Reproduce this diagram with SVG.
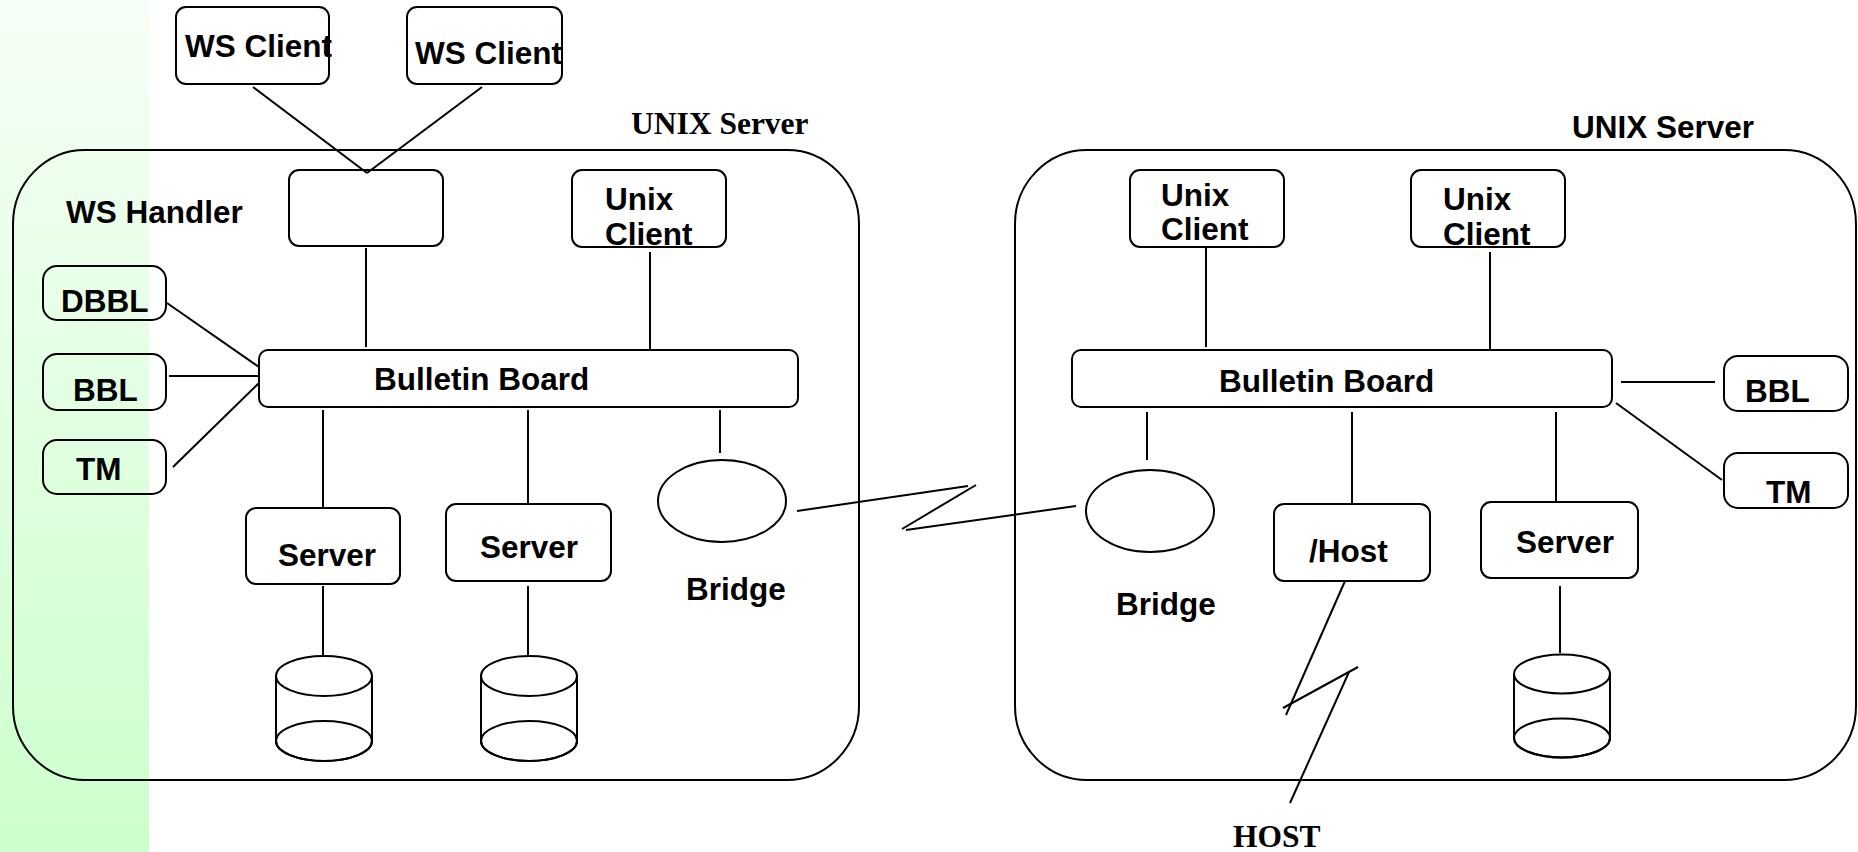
<svg xmlns="http://www.w3.org/2000/svg" width="1858" height="852" viewBox="0 0 1858 852">
<defs>
<linearGradient id="band" x1="0" y1="0" x2="0" y2="1">
<stop offset="0" stop-color="#f6fff6"/>
<stop offset="1" stop-color="#ccffcc"/>
</linearGradient>
<style>
.b{fill:none;stroke:#000;stroke-width:2}
.c{fill:none;stroke:#000;stroke-width:2}
.t{font-family:"Liberation Sans",Arial,sans-serif;font-weight:bold;font-size:31.5px;fill:#000}
.s{font-family:"Liberation Serif","Times New Roman",serif;font-weight:bold;font-size:31.5px;fill:#000}
</style>
</defs>
<rect x="0" y="0" width="1858" height="852" fill="#fff"/>
<rect x="0" y="0" width="149" height="852" fill="url(#band)"/>

<g id="left-server">
<rect class="b" x="13" y="150" width="846" height="630" rx="72" ry="74"/>
<text class="s" x="631" y="134">UNIX Server</text>
<text class="t" x="66" y="223">WS Handler</text>
</g>
<g id="right-server">
<rect class="b" x="1015" y="150" width="841" height="630" rx="72" ry="74"/>
<text class="t" x="1572" y="138">UNIX Server</text>
</g>

<g id="connectors">
<line class="c" x1="253" y1="87" x2="367" y2="173"/>
<line class="c" x1="482" y1="87" x2="367" y2="173"/>
<line class="c" x1="366" y1="248" x2="366" y2="347"/>
<line class="c" x1="650" y1="252" x2="650" y2="349"/>
<line class="c" x1="167" y1="303" x2="259" y2="367"/>
<line class="c" x1="169" y1="376" x2="259" y2="376"/>
<line class="c" x1="173" y1="467" x2="259" y2="383"/>
<line class="c" x1="323" y1="410" x2="323" y2="507"/>
<line class="c" x1="323" y1="586" x2="323" y2="655"/>
<line class="c" x1="528" y1="410" x2="528" y2="503"/>
<line class="c" x1="528" y1="586" x2="528" y2="655"/>
<line class="c" x1="720" y1="410" x2="720" y2="453"/>
<line class="c" x1="797" y1="511" x2="968" y2="486"/>
<line class="c" x1="976" y1="485" x2="902" y2="529"/>
<line class="c" x1="906" y1="530" x2="1076" y2="506"/>
<line class="c" x1="1206" y1="248" x2="1206" y2="347"/>
<line class="c" x1="1490" y1="252" x2="1490" y2="349"/>
<line class="c" x1="1147" y1="412" x2="1147" y2="460"/>
<line class="c" x1="1352" y1="412" x2="1352" y2="503"/>
<line class="c" x1="1556" y1="412" x2="1556" y2="502"/>
<line class="c" x1="1560" y1="586" x2="1560" y2="653"/>
<line class="c" x1="1621" y1="382" x2="1715" y2="382"/>
<line class="c" x1="1616" y1="403" x2="1722" y2="480"/>
<line class="c" x1="1345" y1="581" x2="1286" y2="715"/>
<line class="c" x1="1283" y1="708" x2="1358" y2="667"/>
<line class="c" x1="1349" y1="672" x2="1290" y2="803"/>
</g>

<g id="ws-client-1">
<rect class="b" x="176" y="7" width="153" height="77" rx="10"/>
<text class="t" x="185" y="57">WS Client</text>
</g>
<g id="ws-client-2">
<rect class="b" x="407" y="7" width="155" height="77" rx="10"/>
<text class="t" x="415" y="64">WS Client</text>
</g>
<g id="ws-handler">
<rect class="b" x="289" y="170" width="154" height="76" rx="10"/>
</g>
<g id="unix-client-l">
<rect class="b" x="572" y="170" width="154" height="77" rx="10"/>
<text class="t" x="605" y="210">Unix</text>
<text class="t" x="605" y="245">Client</text>
</g>
<g id="dbbl">
<rect class="b" x="43" y="266" width="123" height="54" rx="14"/>
<text class="t" x="61" y="312">DBBL</text>
</g>
<g id="bbl-l">
<rect class="b" x="43" y="354" width="123" height="56" rx="14"/>
<text class="t" x="73" y="401">BBL</text>
</g>
<g id="tm-l">
<rect class="b" x="43" y="440" width="123" height="54" rx="14"/>
<text class="t" x="76" y="480">TM</text>
</g>
<g id="bb-l">
<rect class="b" x="259" y="350" width="539" height="57" rx="9"/>
<text class="t" x="374" y="390">Bulletin Board</text>
</g>
<g id="server-1">
<rect class="b" x="246" y="508" width="154" height="76" rx="10"/>
<text class="t" x="278" y="566">Server</text>
</g>
<g id="server-2">
<rect class="b" x="446" y="504" width="165" height="77" rx="10"/>
<text class="t" x="480" y="558">Server</text>
</g>
<g id="bridge-l">
<ellipse class="b" cx="722" cy="501" rx="64" ry="41"/>
<text class="t" x="686" y="600">Bridge</text>
</g>
<g id="db-1">
<ellipse class="b" cx="324" cy="676" rx="48" ry="20"/>
<path class="b" d="M276,676 V741 A48,20 0 0 0 372,741 V676"/>
<ellipse class="b" cx="324" cy="741" rx="48" ry="20"/>
</g>
<g id="db-2">
<ellipse class="b" cx="529" cy="676" rx="48" ry="20"/>
<path class="b" d="M481,676 V741 A48,20 0 0 0 577,741 V676"/>
<ellipse class="b" cx="529" cy="741" rx="48" ry="20"/>
</g>

<g id="unix-client-r1">
<rect class="b" x="1130" y="170" width="154" height="77" rx="10"/>
<text class="t" x="1161" y="206">Unix</text>
<text class="t" x="1161" y="240">Client</text>
</g>
<g id="unix-client-r2">
<rect class="b" x="1411" y="170" width="154" height="77" rx="10"/>
<text class="t" x="1443" y="210">Unix</text>
<text class="t" x="1443" y="245">Client</text>
</g>
<g id="bb-r">
<rect class="b" x="1072" y="350" width="540" height="57" rx="9"/>
<text class="t" x="1219" y="392">Bulletin Board</text>
</g>
<g id="bbl-r">
<rect class="b" x="1724" y="356" width="124" height="55" rx="14"/>
<text class="t" x="1745" y="402">BBL</text>
</g>
<g id="tm-r">
<rect class="b" x="1724" y="453" width="124" height="55" rx="14"/>
<text class="t" x="1766" y="503">TM</text>
</g>
<g id="bridge-r">
<ellipse class="b" cx="1150" cy="511" rx="64" ry="41"/>
<text class="t" x="1116" y="615">Bridge</text>
</g>
<g id="host-gw">
<rect class="b" x="1274" y="504" width="156" height="77" rx="10"/>
<text class="t" x="1309" y="562">/Host</text>
</g>
<g id="server-r">
<rect class="b" x="1481" y="502" width="157" height="76" rx="10"/>
<text class="t" x="1516" y="553">Server</text>
</g>
<g id="db-r">
<ellipse class="b" cx="1562" cy="674" rx="48" ry="19.5"/>
<path class="b" d="M1514,674 V738 A48,19.5 0 0 0 1610,738 V674"/>
<ellipse class="b" cx="1562" cy="738" rx="48" ry="19.5"/>
</g>
<g id="host">
<text class="s" x="1233" y="847">HOST</text>
</g>
</svg>
